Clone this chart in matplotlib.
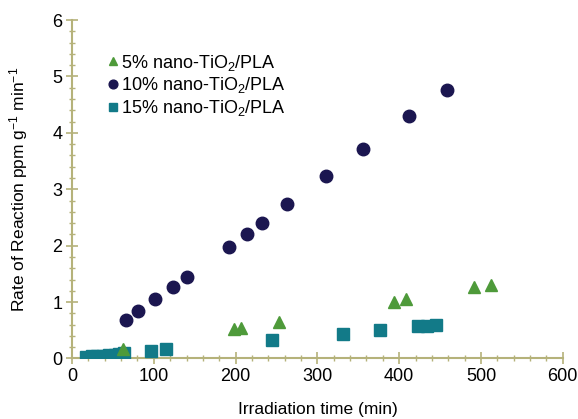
import matplotlib
matplotlib.use("Agg")
import matplotlib.pyplot as plt
from matplotlib.ticker import MultipleLocator

plt.rcParams['font.family'] = ['Liberation Sans', 'DejaVu Sans']
plt.rcParams['mathtext.fontset'] = 'custom'
plt.rcParams['mathtext.rm'] = 'Liberation Sans'
plt.rcParams['mathtext.it'] = 'Liberation Sans'

# 5% nano-TiO2/PLA
t5 = [62, 198, 207, 253, 394, 408, 492, 512]
r5 = [0.17, 0.52, 0.54, 0.64, 1.01, 1.05, 1.26, 1.31]

# 10% nano-TiO2/PLA
t10 = [66, 81, 101, 123, 140, 192, 214, 232, 263, 310, 356, 412, 458]
r10 = [0.68, 0.84, 1.05, 1.26, 1.44, 1.98, 2.21, 2.40, 2.73, 3.23, 3.71, 4.29, 4.76]

# 15% nano-TiO2/PLA
t15 = [17, 24, 31, 38, 45, 52, 58, 63, 96, 115, 245, 331, 377, 423, 434, 445]
r15 = [0.03, 0.04, 0.05, 0.05, 0.06, 0.07, 0.08, 0.09, 0.14, 0.16, 0.33, 0.43, 0.50, 0.57, 0.58, 0.59]

axcol = '#b5b27a'

fig = plt.figure(figsize=(5.78, 4.19), dpi=100)
ax = fig.add_axes([0.1246, 0.1444, 0.849, 0.8078])

ax.plot(t15, r15, 's', color='#127a88', markersize=8, label='15% nano-TiO$_2$/PLA', zorder=3)
ax.plot(t5, r5, '^', color='#4e9a3a', markersize=9, label='5% nano-TiO$_2$/PLA', zorder=4)
ax.plot(t10, r10, 'o', color='#1b1650', markersize=9, label='10% nano-TiO$_2$/PLA', zorder=5)

ax.set_xlim(0, 600)
ax.set_ylim(0, 6)
ax.xaxis.set_major_locator(MultipleLocator(100))
ax.xaxis.set_minor_locator(MultipleLocator(20))
ax.yaxis.set_major_locator(MultipleLocator(1))
ax.yaxis.set_minor_locator(MultipleLocator(0.2))

for s in ['top', 'right']:
    ax.spines[s].set_visible(False)
for s in ['left', 'bottom']:
    ax.spines[s].set_color(axcol)
    ax.spines[s].set_linewidth(1.5)
ax.tick_params(which='major', direction='inout', length=8, width=1.2, color=axcol,
               labelsize=13, pad=3)
ax.tick_params(which='minor', direction='inout', length=5, width=1.0, color=axcol)

ax.set_xlabel('Irradiation time (min)', fontsize=12.5, labelpad=12)
ax.set_ylabel('Rate of Reaction ppm g$^{-1}$ min$^{-1}$', fontsize=12.5, labelpad=16)

handles, labels = ax.get_legend_handles_labels()
order = [1, 2, 0]
ax.legend([handles[i] for i in order], [labels[i] for i in order],
          loc='upper left', bbox_to_anchor=(0.058, 0.925), frameon=False,
          fontsize=13, markerscale=0.7, handlelength=0.6, handletextpad=0.15,
          labelspacing=0.15, borderaxespad=0)

fig.savefig('out.png', dpi=100)
